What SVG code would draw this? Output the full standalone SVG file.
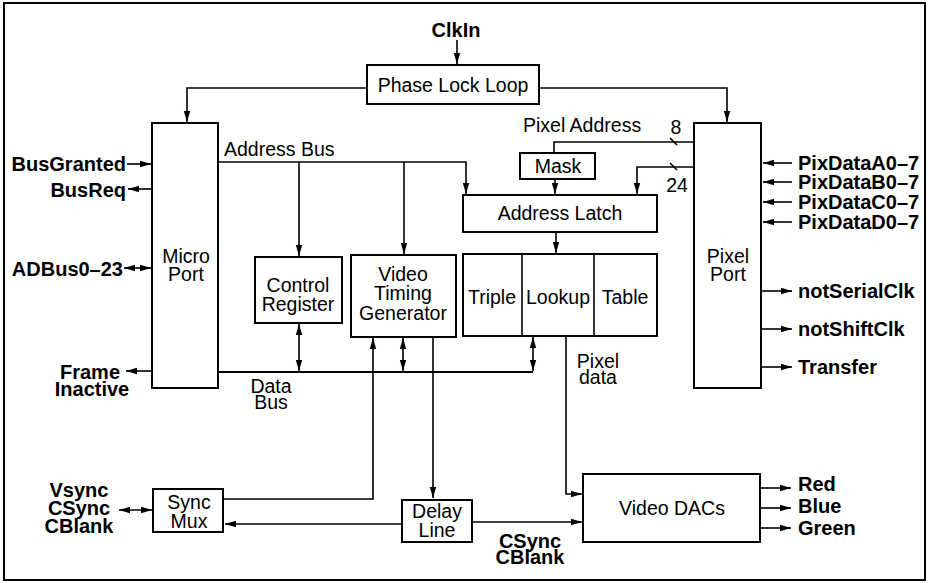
<svg xmlns="http://www.w3.org/2000/svg" width="928" height="583" viewBox="0 0 928 583">
<style>
.box{fill:#fff;stroke:#000;stroke-width:2}
.ln{fill:none;stroke:#000;stroke-width:1.6}
.t{font-family:"Liberation Sans",Arial,sans-serif;font-size:19.5px;fill:#000}
.b{font-family:"Liberation Sans",Arial,sans-serif;font-size:20px;font-weight:bold;fill:#000}
.m{text-anchor:middle}
.e{text-anchor:end}
</style>
<defs>
<marker id="ar" markerUnits="userSpaceOnUse" markerWidth="12" markerHeight="8" refX="11" refY="4" orient="auto-start-reverse">
<path d="M0,0.8 L11,4 L0,7.2 Z" fill="#000"/>
</marker>
</defs>
<rect x="4" y="3" width="921" height="577" fill="#fff" stroke="#000" stroke-width="2"/>

<g id="connectors">
<path class="ln" d="M457,40 V64" marker-end="url(#ar)"/>
<path class="ln" d="M367,88 H187 V122" marker-end="url(#ar)"/>
<path class="ln" d="M539,88 H727 V122" marker-end="url(#ar)"/>
<path class="ln" d="M218,162 H466 V194" marker-end="url(#ar)"/>
<path class="ln" d="M299,162 V256" marker-end="url(#ar)"/>
<path class="ln" d="M404,162 V254" marker-end="url(#ar)"/>
<path class="ln" d="M694,142 H554 V153"/>
<path class="ln" d="M670,138 L677,145"/>
<path class="ln" d="M694,167 H637 V194" marker-end="url(#ar)"/>
<path class="ln" d="M670,163 L677,170"/>
<path class="ln" d="M555,180 V194" marker-end="url(#ar)"/>
<path class="ln" d="M556,232 V253" marker-end="url(#ar)"/>
<path class="ln" d="M218,372 H533" style="stroke-width:2"/>
<path class="ln" d="M533,371 V337" marker-start="url(#ar)" marker-end="url(#ar)"/>
<path class="ln" d="M299,371 V324" marker-start="url(#ar)" marker-end="url(#ar)"/>
<path class="ln" d="M403,371 V338" marker-start="url(#ar)" marker-end="url(#ar)"/>
<path class="ln" d="M224,499 H373 V338" marker-end="url(#ar)"/>
<path class="ln" d="M433,337 V498" marker-end="url(#ar)"/>
<path class="ln" d="M402,524 H225" marker-end="url(#ar)"/>
<path class="ln" d="M472,522 H582" marker-end="url(#ar)"/>
<path class="ln" d="M566,337 V494 H582" marker-end="url(#ar)"/>
<path class="ln" d="M761,488 H791" marker-end="url(#ar)"/>
<path class="ln" d="M761,508 H791" marker-end="url(#ar)"/>
<path class="ln" d="M761,528 H791" marker-end="url(#ar)"/>
<path class="ln" d="M792,163 H763" marker-end="url(#ar)"/>
<path class="ln" d="M792,182 H763" marker-end="url(#ar)"/>
<path class="ln" d="M792,202 H763" marker-end="url(#ar)"/>
<path class="ln" d="M792,222 H763" marker-end="url(#ar)"/>
<path class="ln" d="M762,291 H792" marker-end="url(#ar)"/>
<path class="ln" d="M762,329 H792" marker-end="url(#ar)"/>
<path class="ln" d="M762,367 H792" marker-end="url(#ar)"/>
<path class="ln" d="M127,164 H151" marker-end="url(#ar)"/>
<path class="ln" d="M152,189 H128" marker-end="url(#ar)"/>
<path class="ln" d="M124,268 H151" marker-start="url(#ar)" marker-end="url(#ar)"/>
<path class="ln" d="M152,371 H126" marker-end="url(#ar)"/>
<path class="ln" d="M119,510 H152" marker-start="url(#ar)" marker-end="url(#ar)"/>
</g>

<g id="clkin"><text class="b m" x="456" y="37">ClkIn</text></g>
<g id="pll"><rect class="box" x="367" y="65" width="172" height="39"/><text class="t m" x="453" y="92">Phase Lock Loop</text></g>
<g id="microport"><rect class="box" x="152" y="123" width="66" height="265"/><text class="t m" x="186" y="263">Micro</text><text class="t m" x="186" y="281">Port</text></g>
<g id="pixelport"><rect class="box" x="694" y="123" width="67" height="265"/><text class="t m" x="728" y="263">Pixel</text><text class="t m" x="728" y="281">Port</text></g>
<g id="mask"><rect class="box" x="520" y="153" width="75" height="26"/><text class="t m" x="558" y="173">Mask</text></g>
<g id="addresslatch"><rect class="box" x="463" y="195" width="194" height="37"/><text class="t m" x="560" y="220">Address Latch</text></g>
<g id="lookup"><rect class="box" x="463" y="254" width="194" height="82"/><path class="ln" d="M522,254 V336 M594,254 V336" style="stroke-width:1.6"/><text class="t m" x="492" y="304">Triple</text><text class="t m" x="558" y="304">Lookup</text><text class="t m" x="625" y="304">Table</text></g>
<g id="controlregister"><rect class="box" x="255" y="257" width="87" height="66"/><text class="t m" x="298" y="292">Control</text><text class="t m" x="298" y="311">Register</text></g>
<g id="vtg"><rect class="box" x="351" y="255" width="105" height="82"/><text class="t m" x="403" y="281">Video</text><text class="t m" x="403" y="300">Timing</text><text class="t m" x="403" y="320">Generator</text></g>
<g id="syncmux"><rect class="box" x="153" y="489" width="70" height="43"/><text class="t m" x="189" y="509">Sync</text><text class="t m" x="189" y="528">Mux</text></g>
<g id="delayline"><rect class="box" x="402" y="500" width="70" height="42"/><text class="t m" x="437" y="518">Delay</text><text class="t m" x="437" y="537">Line</text></g>
<g id="videodacs"><rect class="box" x="583" y="474" width="177" height="68"/><text class="t m" x="672" y="515">Video DACs</text></g>

<g id="labels">
<text class="t" x="224" y="156">Address Bus</text>
<text class="t" x="523" y="132">Pixel Address</text>
<text class="t m" x="676" y="134">8</text>
<text class="t m" x="677" y="192">24</text>
<text class="t m" x="271" y="393">Data</text>
<text class="t m" x="271" y="409">Bus</text>
<text class="t m" x="598" y="368">Pixel</text>
<text class="t m" x="598" y="384">data</text>
<text class="b e" x="126" y="171">BusGranted</text>
<text class="b e" x="126" y="197">BusReq</text>
<text class="b e" x="123" y="276">ADBus0–23</text>
<text class="b m" x="90" y="379">Frame</text>
<text class="b m" x="92" y="396">Inactive</text>
<text class="b m" x="79" y="497">Vsync</text>
<text class="b m" x="79" y="515">CSync</text>
<text class="b m" x="79" y="533">CBlank</text>
<text class="b m" x="530" y="548">CSync</text>
<text class="b m" x="530" y="564">CBlank</text>
<text class="b" x="798" y="170">PixDataA0–7</text>
<text class="b" x="798" y="189">PixDataB0–7</text>
<text class="b" x="798" y="209">PixDataC0–7</text>
<text class="b" x="798" y="229">PixDataD0–7</text>
<text class="b" x="798" y="298">notSerialClk</text>
<text class="b" x="798" y="336">notShiftClk</text>
<text class="b" x="798" y="374">Transfer</text>
<text class="b" x="798" y="491">Red</text>
<text class="b" x="798" y="513">Blue</text>
<text class="b" x="798" y="535">Green</text>
</g>
</svg>
